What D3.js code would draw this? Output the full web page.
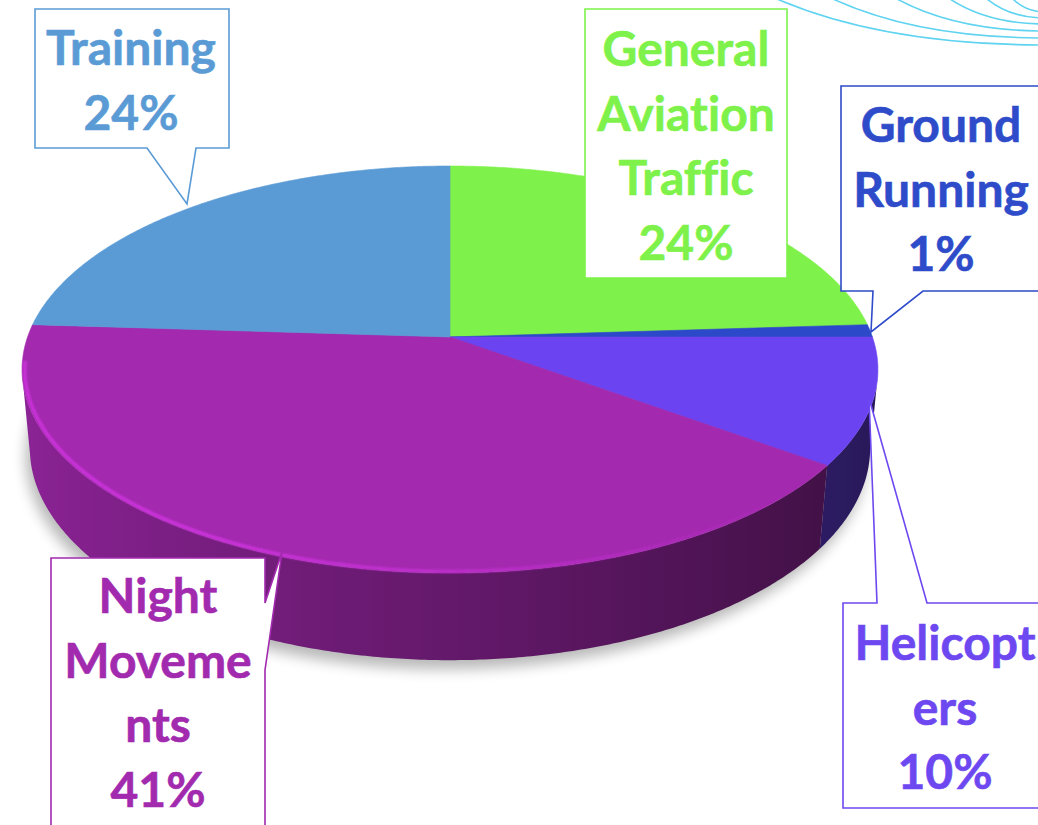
<!DOCTYPE html>
<html>
<head>
<meta charset="utf-8">
<script src="https://cdn.jsdelivr.net/npm/d3@7"></script>
<style>
  html, body { margin: 0; padding: 0; background: #fff; }
  svg { display: block; }
  text { font-family: Lato, "Open Sans", sans-serif; font-weight: 700; font-variant-ligatures: none; }
</style>
</head>
<body>
<svg id="chart" width="1038" height="825"></svg>
<script>
// data, clockwise from 12 o'clock
const categories = ["General Aviation Traffic", "Ground Running", "Helicopters", "Night Movements", "Training"];
const values = [24, 1, 10, 41, 24];
const nameLines = [["General", "Aviation", "Traffic"], ["Ground", "Running"], ["Helicopt", "ers"], ["Night", "Moveme", "nts"], ["Training"]];
const topColors = ["#7ef24a", "#2b49c8", "#6c43f0", "#a329af", "#5b9bd5"];
const textColors = ["#7ef24a", "#2e4bc9", "#6d48f0", "#a22aae", "#5b9bd5"];

// callout layout (box, pointer side, pointer base, tip, first text baseline)
const callouts = [
    { box: [585, 9, 787, 278], side: null, cx: 686, y0: 66 },
    { box: [841, 86, 1050, 291], side: "bottom", a: 873, b: 923, tip: [871, 332], cx: 941, y0: 142 },
    { box: [843, 603, 1050, 808], side: "top", a: 877, b: 927, tip: [869, 398], cx: 945, y0: 660 },
    { box: [51, 558, 265, 840], side: "right", a: 603, b: 670, tip: [282, 552], cx: 158, y0: 613 },
    { box: [35, 9, 229, 148], side: "bottom", a: 147, b: 196, tip: [187, 204], cx: 131, y0: 65 }
];

// decoration curves in the top right corner
const swooshStarts = [777, 833, 897, 950, 987, 1013];
const swooshEnds = [45, 38, 31, 24, 18, 12];

const svg = d3.select("#chart");
const defs = svg.append("defs");

defs.append("filter").attr("id", "shadowBlur")
    .attr("x", "-20%").attr("y", "-20%").attr("width", "140%").attr("height", "140%")
    .append("feGaussianBlur").attr("stdDeviation", 7);
defs.append("filter").attr("id", "softBlur")
    .append("feGaussianBlur").attr("stdDeviation", 1.1);

// perspective projection of the pie disk
const CX = 450, CY = 337;
const PHI = 28 * Math.PI / 180;
const S = Math.sin(PHI), C = Math.cos(PHI);
const D = 5.53, F = 2336, T = 0.212;

function project(a, r, h) {
    const X = r * Math.sin(a), Z = r * Math.cos(a);
    const depth = D + Z * C - h * S;
    return [CX + F * X / depth, CY - F * (h * C + Z * S) / depth];
}

const pie = d3.pie().sort(null).value(d => d)
    .startAngle(0).endAngle(2 * Math.PI);
const arcs = pie(values);

const step = Math.PI / 360;
function arcPoints(a0, a1, h) {
    const n = Math.max(2, Math.ceil((a1 - a0) / step));
    return d3.range(n + 1).map(i => project(a0 + (a1 - a0) * i / n, 1, h));
}

const line = d3.line();

// decoration
svg.append("g").selectAll("path")
    .data(swooshStarts)
    .join("path")
    .attr("d", (x0, i) => {
        const x1 = 1045, y1 = swooshEnds[i];
        const p = d3.path();
        p.moveTo(x0, -1);
        p.quadraticCurveTo(x0 + 0.4 * (x1 - x0), y1, x1, y1);
        return p.toString();
    })
    .attr("fill", "none")
    .attr("stroke", "#5fd3f0")
    .attr("stroke-width", 1.6);

// shadow
svg.append("path")
    .attr("d", line(arcPoints(0, 2 * Math.PI, -T)) + "Z")
    .attr("transform", "translate(-4,9)")
    .attr("fill", "#000")
    .attr("opacity", 0.28)
    .attr("filter", "url(#shadowBlur)");

// side walls: only the part facing the viewer
const shadeScale = d3.scaleLinear().domain([-1, 1]).range([0.86, 0.36]);
const limit = -1 / (D * C) + 0.02;
const frontLo = Math.PI - Math.acos(-limit), frontHi = Math.PI + Math.acos(-limit);

const walls = arcs.map((d, i) => {
    const a0 = Math.max(d.startAngle, frontLo), a1 = Math.min(d.endAngle, frontHi);
    return { i, a0, a1 };
}).filter(w => w.a1 > w.a0);

walls.forEach(w => {
    const base = d3.rgb(topColors[w.i]);
    const top = arcPoints(w.a0, w.a1, 0);
    const bottom = arcPoints(w.a0, w.a1, -T).reverse();
    w.path = line(top.concat(bottom)) + "Z";
    const xs = top.map(p => p[0]);
    const xMin = d3.min(xs), xMax = d3.max(xs);
    const n = 16;
    const stops = d3.range(n + 1).map(k => {
        const a = w.a0 + (w.a1 - w.a0) * k / n;
        const px = project(a, 1, 0)[0];
        const kf = shadeScale(Math.sin(a));
        return {
            offset: xMax > xMin ? (px - xMin) / (xMax - xMin) : 0,
            color: d3.rgb(base.r * kf, base.g * kf, base.b * kf).toString()
        };
    }).sort((p, q) => p.offset - q.offset);
    defs.append("linearGradient")
        .attr("id", "wall" + w.i)
        .attr("gradientUnits", "userSpaceOnUse")
        .attr("x1", xMin).attr("x2", xMax).attr("y1", 0).attr("y2", 0)
        .selectAll("stop")
        .data(stops)
        .join("stop")
        .attr("offset", s => s.offset)
        .attr("stop-color", s => s.color);
});

svg.append("g").selectAll("path")
    .data(walls)
    .join("path")
    .attr("d", w => w.path)
    .attr("fill", w => "url(#wall" + w.i + ")");

// top faces
svg.append("g").selectAll("path")
    .data(arcs)
    .join("path")
    .attr("d", d => line([[CX, CY]].concat(arcPoints(d.startAngle, d.endAngle, 0))) + "Z")
    .attr("fill", (d, i) => topColors[i])
    .attr("stroke", (d, i) => topColors[i])
    .attr("stroke-width", 0.6);

// bevel highlight on the front rim
const rimSegs = [];
arcs.forEach((d, i) => {
    const n = Math.max(1, Math.ceil((d.endAngle - d.startAngle) / step));
    for (let k = 0; k < n; k++) {
        const a0 = d.startAngle + (d.endAngle - d.startAngle) * k / n;
        const a1 = d.startAngle + (d.endAngle - d.startAngle) * (k + 1) / n;
        const am = (a0 + a1) / 2;
        if (Math.cos(am) > -0.12) continue;
        rimSegs.push({
            color: d3.rgb(topColors[i]).brighter(0.7).toString(),
            op: Math.max(0, Math.min(1, 0.6 - 0.8 * Math.sin(am))),
            pts: [project(a0, 0.994, 0), project(a1, 0.994, 0)]
        });
    }
});
svg.append("g").attr("filter", "url(#softBlur)")
    .selectAll("path")
    .data(rimSegs)
    .join("path")
    .attr("d", s => line(s.pts))
    .attr("stroke", s => s.color)
    .attr("stroke-opacity", s => s.op)
    .attr("stroke-width", 3.2)
    .attr("fill", "none");

// callouts
function calloutPath(c) {
    const [x0, y0, x1, y1] = c.box;
    const p = d3.path();
    p.moveTo(x0, y0);
    if (c.side === "top") { p.lineTo(c.a, y0); p.lineTo(c.tip[0], c.tip[1]); p.lineTo(c.b, y0); }
    p.lineTo(x1, y0);
    if (c.side === "right") { p.lineTo(x1, c.a); p.lineTo(c.tip[0], c.tip[1]); p.lineTo(x1, c.b); }
    p.lineTo(x1, y1);
    if (c.side === "bottom") { p.lineTo(c.b, y1); p.lineTo(c.tip[0], c.tip[1]); p.lineTo(c.a, y1); }
    p.lineTo(x0, y1);
    p.closePath();
    return p.toString();
}

const labels = svg.append("g").selectAll("g")
    .data(callouts)
    .join("g");

labels.append("path")
    .attr("d", calloutPath)
    .attr("fill", "#fff")
    .attr("stroke", (c, i) => textColors[i])
    .attr("stroke-width", 1.6)
    .attr("stroke-linejoin", "miter");

labels.each(function (c, i) {
    const lines = nameLines[i].concat([values[i] + "%"]);
    d3.select(this).selectAll("text")
        .data(lines)
        .join("text")
        .attr("x", c.cx)
        .attr("y", (t, j) => c.y0 + j * 64.5)
        .attr("text-anchor", "middle")
        .attr("font-size", 48)
        .attr("fill", textColors[i])
        .attr("stroke", textColors[i])
        .attr("stroke-width", 0.6)
        .text(t => t);
});
</script>
</body>
</html>
